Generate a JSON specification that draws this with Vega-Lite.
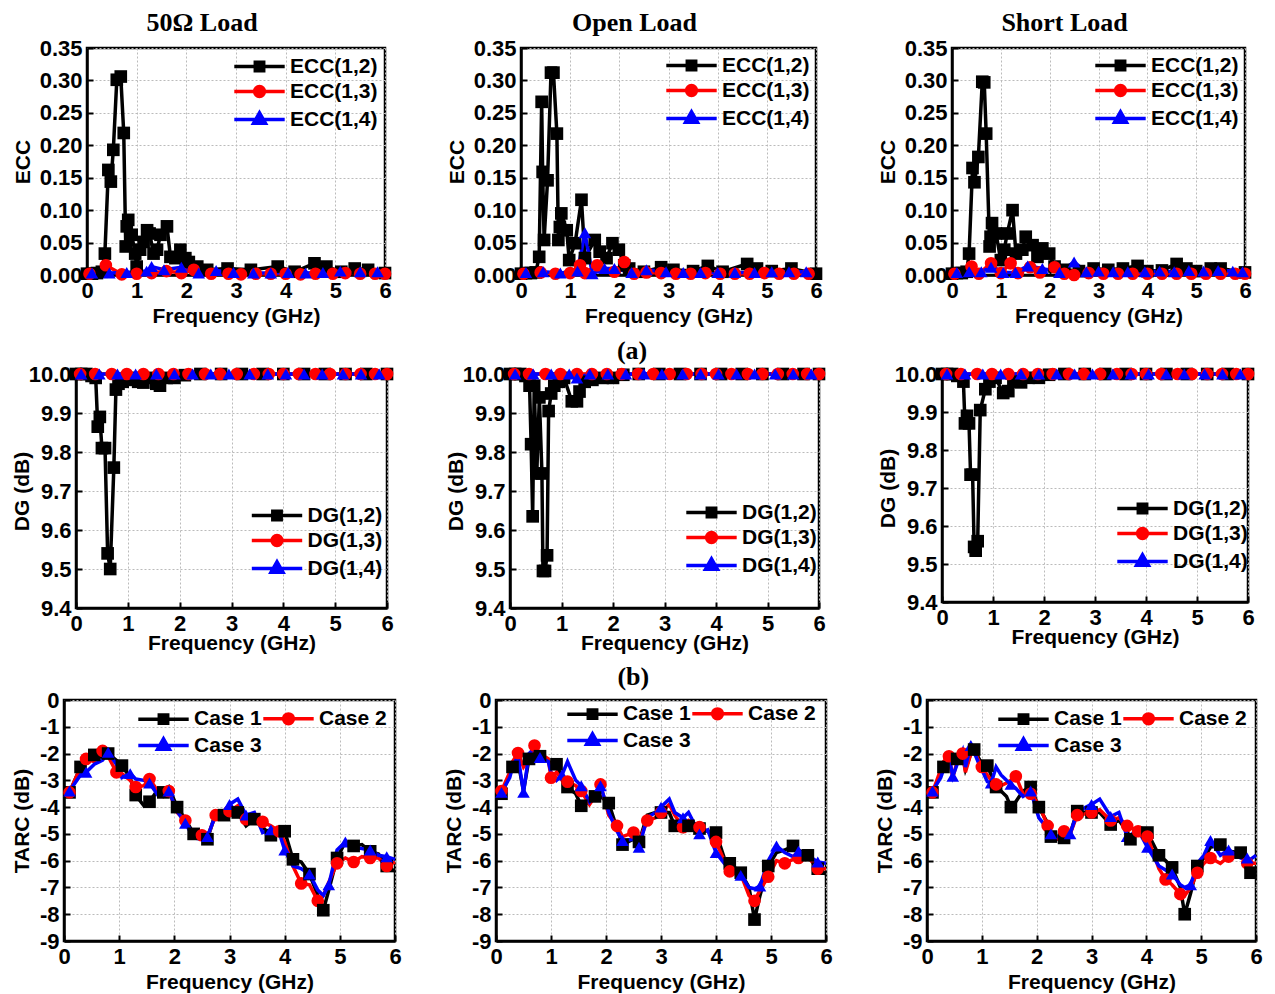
{
"$schema":"https://vega.github.io/schema/vega-lite/v6.json",
"padding":{"left":9,"right":5,"top":8,"bottom":0},
"config":{
 "font":"Liberation Sans",
 "view":{"stroke":"black","strokeWidth":2.5},
 "title":{"font":"Liberation Serif","fontSize":26,"fontWeight":"bold","color":"black","anchor":"middle","frame":"bounds","offset":1},
 "axis":{"labelFont":"Liberation Sans","labelFontSize":22,"labelFontWeight":"bold","labelColor":"black","titleFont":"Liberation Sans","titleFontSize":21,"titleFontWeight":"bold","titleColor":"black","domainColor":"black","domainWidth":2.5,"tickColor":"black","tickSize":-6,"tickWidth":2,"labelPadding":11,"titlePadding":4,"gridColor":"#bbbbbb","gridDash":[2,2],"gridWidth":1,"labelFlush":false,"labelOverlap":false,"grid":true},
 "legend":{"labelFont":"Liberation Sans","labelFontSize":21,"labelFontWeight":"bold","labelColor":"black","symbolSize":196,"symbolStrokeWidth":3.5,"labelOffset":20,"rowPadding":1,"columnPadding":-6,"padding":0}
},
"datasets":{
"e1":[
{"s":"ECC(1,2)","f":0,"v":0.002},{"s":"ECC(1,2)","f":0.1,"v":0.002},{"s":"ECC(1,2)","f":0.2,"v":0.003},{"s":"ECC(1,2)","f":0.3,"v":0.005},{"s":"ECC(1,2)","f":0.36,"v":0.033},{"s":"ECC(1,2)","f":0.43,"v":0.162},{"s":"ECC(1,2)","f":0.48,"v":0.144},{"s":"ECC(1,2)","f":0.53,"v":0.193},{"s":"ECC(1,2)","f":0.6,"v":0.301},{"s":"ECC(1,2)","f":0.68,"v":0.306},{"s":"ECC(1,2)","f":0.74,"v":0.219},{"s":"ECC(1,2)","f":0.78,"v":0.044},{"s":"ECC(1,2)","f":0.8,"v":0.075},{"s":"ECC(1,2)","f":0.83,"v":0.085},{"s":"ECC(1,2)","f":0.9,"v":0.062},{"s":"ECC(1,2)","f":0.97,"v":0.033},{"s":"ECC(1,2)","f":1.0,"v":0.013},{"s":"ECC(1,2)","f":1.07,"v":0.039},{"s":"ECC(1,2)","f":1.14,"v":0.051},{"s":"ECC(1,2)","f":1.21,"v":0.069},{"s":"ECC(1,2)","f":1.26,"v":0.064},{"s":"ECC(1,2)","f":1.34,"v":0.033},{"s":"ECC(1,2)","f":1.41,"v":0.039},{"s":"ECC(1,2)","f":1.48,"v":0.062},{"s":"ECC(1,2)","f":1.61,"v":0.075},{"s":"ECC(1,2)","f":1.68,"v":0.028},{"s":"ECC(1,2)","f":1.78,"v":0.026},{"s":"ECC(1,2)","f":1.88,"v":0.039},{"s":"ECC(1,2)","f":1.98,"v":0.026},{"s":"ECC(1,2)","f":2.05,"v":0.02},{"s":"ECC(1,2)","f":2.22,"v":0.013},{"s":"ECC(1,2)","f":2.42,"v":0.008},{"s":"ECC(1,2)","f":2.83,"v":0.01},{"s":"ECC(1,2)","f":3.3,"v":0.008},{"s":"ECC(1,2)","f":3.84,"v":0.013},{"s":"ECC(1,2)","f":4.18,"v":0.005},{"s":"ECC(1,2)","f":4.58,"v":0.018},{"s":"ECC(1,2)","f":4.82,"v":0.013},{"s":"ECC(1,2)","f":5.12,"v":0.005},{"s":"ECC(1,2)","f":5.39,"v":0.01},{"s":"ECC(1,2)","f":5.66,"v":0.008},{"s":"ECC(1,2)","f":6.0,"v":0.003},
{"s":"ECC(1,3)","f":0.05,"v":0.002},{"s":"ECC(1,3)","f":0.38,"v":0.015},{"s":"ECC(1,3)","f":0.7,"v":0.001},{"s":"ECC(1,3)","f":1.0,"v":0.002},{"s":"ECC(1,3)","f":1.3,"v":0.003},{"s":"ECC(1,3)","f":1.6,"v":0.006},{"s":"ECC(1,3)","f":1.9,"v":0.003},{"s":"ECC(1,3)","f":2.15,"v":0.008},{"s":"ECC(1,3)","f":2.5,"v":0.002},{"s":"ECC(1,3)","f":2.85,"v":0.002},{"s":"ECC(1,3)","f":3.1,"v":0.001},{"s":"ECC(1,3)","f":3.4,"v":0.002},{"s":"ECC(1,3)","f":3.7,"v":0.002},{"s":"ECC(1,3)","f":4.0,"v":0.002},{"s":"ECC(1,3)","f":4.3,"v":0.001},{"s":"ECC(1,3)","f":4.6,"v":0.002},{"s":"ECC(1,3)","f":4.95,"v":0.002},{"s":"ECC(1,3)","f":5.2,"v":0.003},{"s":"ECC(1,3)","f":5.5,"v":0.002},{"s":"ECC(1,3)","f":5.8,"v":0.002},{"s":"ECC(1,3)","f":6.0,"v":0.002},
{"s":"ECC(1,4)","f":0.1,"v":0.003},{"s":"ECC(1,4)","f":0.45,"v":0.003},{"s":"ECC(1,4)","f":0.8,"v":0.004},{"s":"ECC(1,4)","f":1.2,"v":0.006},{"s":"ECC(1,4)","f":1.3,"v":0.013},{"s":"ECC(1,4)","f":1.55,"v":0.008},{"s":"ECC(1,4)","f":1.9,"v":0.012},{"s":"ECC(1,4)","f":2.25,"v":0.003},{"s":"ECC(1,4)","f":2.6,"v":0.007},{"s":"ECC(1,4)","f":2.95,"v":0.004},{"s":"ECC(1,4)","f":3.35,"v":0.003},{"s":"ECC(1,4)","f":3.7,"v":0.003},{"s":"ECC(1,4)","f":4.05,"v":0.004},{"s":"ECC(1,4)","f":4.4,"v":0.003},{"s":"ECC(1,4)","f":4.75,"v":0.004},{"s":"ECC(1,4)","f":5.1,"v":0.006},{"s":"ECC(1,4)","f":5.5,"v":0.005},{"s":"ECC(1,4)","f":5.85,"v":0.005}
],
"e2":[
{"s":"ECC(1,2)","f":0,"v":0.002},{"s":"ECC(1,2)","f":0.1,"v":0.003},{"s":"ECC(1,2)","f":0.2,"v":0.003},{"s":"ECC(1,2)","f":0.3,"v":0.004},{"s":"ECC(1,2)","f":0.37,"v":0.028},{"s":"ECC(1,2)","f":0.42,"v":0.267},{"s":"ECC(1,2)","f":0.44,"v":0.159},{"s":"ECC(1,2)","f":0.47,"v":0.054},{"s":"ECC(1,2)","f":0.54,"v":0.146},{"s":"ECC(1,2)","f":0.61,"v":0.312},{"s":"ECC(1,2)","f":0.66,"v":0.312},{"s":"ECC(1,2)","f":0.73,"v":0.218},{"s":"ECC(1,2)","f":0.76,"v":0.054},{"s":"ECC(1,2)","f":0.79,"v":0.074},{"s":"ECC(1,2)","f":0.82,"v":0.095},{"s":"ECC(1,2)","f":0.93,"v":0.069},{"s":"ECC(1,2)","f":0.98,"v":0.023},{"s":"ECC(1,2)","f":1.1,"v":0.049},{"s":"ECC(1,2)","f":1.23,"v":0.116},{"s":"ECC(1,2)","f":1.3,"v":0.026},{"s":"ECC(1,2)","f":1.5,"v":0.054},{"s":"ECC(1,2)","f":1.6,"v":0.036},{"s":"ECC(1,2)","f":1.74,"v":0.026},{"s":"ECC(1,2)","f":1.86,"v":0.049},{"s":"ECC(1,2)","f":1.99,"v":0.039},{"s":"ECC(1,2)","f":2.1,"v":0.015},{"s":"ECC(1,2)","f":2.2,"v":0.01},{"s":"ECC(1,2)","f":2.5,"v":0.005},{"s":"ECC(1,2)","f":2.85,"v":0.012},{"s":"ECC(1,2)","f":3.1,"v":0.008},{"s":"ECC(1,2)","f":3.5,"v":0.006},{"s":"ECC(1,2)","f":3.8,"v":0.014},{"s":"ECC(1,2)","f":4.1,"v":0.005},{"s":"ECC(1,2)","f":4.6,"v":0.017},{"s":"ECC(1,2)","f":4.8,"v":0.01},{"s":"ECC(1,2)","f":5.1,"v":0.006},{"s":"ECC(1,2)","f":5.5,"v":0.01},{"s":"ECC(1,2)","f":6.0,"v":0.002},
{"s":"ECC(1,3)","f":0.05,"v":0.002},{"s":"ECC(1,3)","f":0.4,"v":0.004},{"s":"ECC(1,3)","f":0.7,"v":0.002},{"s":"ECC(1,3)","f":1.0,"v":0.003},{"s":"ECC(1,3)","f":1.2,"v":0.015},{"s":"ECC(1,3)","f":1.3,"v":0.003},{"s":"ECC(1,3)","f":1.55,"v":0.015},{"s":"ECC(1,3)","f":1.9,"v":0.005},{"s":"ECC(1,3)","f":2.1,"v":0.02},{"s":"ECC(1,3)","f":2.3,"v":0.002},{"s":"ECC(1,3)","f":2.55,"v":0.004},{"s":"ECC(1,3)","f":2.85,"v":0.003},{"s":"ECC(1,3)","f":3.15,"v":0.002},{"s":"ECC(1,3)","f":3.45,"v":0.002},{"s":"ECC(1,3)","f":3.75,"v":0.003},{"s":"ECC(1,3)","f":4.05,"v":0.002},{"s":"ECC(1,3)","f":4.35,"v":0.002},{"s":"ECC(1,3)","f":4.65,"v":0.002},{"s":"ECC(1,3)","f":4.95,"v":0.003},{"s":"ECC(1,3)","f":5.25,"v":0.002},{"s":"ECC(1,3)","f":5.55,"v":0.002},{"s":"ECC(1,3)","f":5.85,"v":0.002},
{"s":"ECC(1,4)","f":0.1,"v":0.004},{"s":"ECC(1,4)","f":0.45,"v":0.005},{"s":"ECC(1,4)","f":0.8,"v":0.003},{"s":"ECC(1,4)","f":1.15,"v":0.006},{"s":"ECC(1,4)","f":1.3,"v":0.065},{"s":"ECC(1,4)","f":1.45,"v":0.002},{"s":"ECC(1,4)","f":1.7,"v":0.01},{"s":"ECC(1,4)","f":1.9,"v":0.01},{"s":"ECC(1,4)","f":2.25,"v":0.004},{"s":"ECC(1,4)","f":2.55,"v":0.008},{"s":"ECC(1,4)","f":2.95,"v":0.005},{"s":"ECC(1,4)","f":3.3,"v":0.004},{"s":"ECC(1,4)","f":3.65,"v":0.004},{"s":"ECC(1,4)","f":4.0,"v":0.004},{"s":"ECC(1,4)","f":4.35,"v":0.004},{"s":"ECC(1,4)","f":4.75,"v":0.004},{"s":"ECC(1,4)","f":5.1,"v":0.005},{"s":"ECC(1,4)","f":5.45,"v":0.005},{"s":"ECC(1,4)","f":5.8,"v":0.005}
],
"e3":[
{"s":"ECC(1,2)","f":0,"v":0.002},{"s":"ECC(1,2)","f":0.1,"v":0.003},{"s":"ECC(1,2)","f":0.2,"v":0.003},{"s":"ECC(1,2)","f":0.3,"v":0.005},{"s":"ECC(1,2)","f":0.35,"v":0.033},{"s":"ECC(1,2)","f":0.42,"v":0.165},{"s":"ECC(1,2)","f":0.46,"v":0.143},{"s":"ECC(1,2)","f":0.54,"v":0.182},{"s":"ECC(1,2)","f":0.62,"v":0.298},{"s":"ECC(1,2)","f":0.66,"v":0.297},{"s":"ECC(1,2)","f":0.7,"v":0.218},{"s":"ECC(1,2)","f":0.77,"v":0.044},{"s":"ECC(1,2)","f":0.79,"v":0.059},{"s":"ECC(1,2)","f":0.82,"v":0.08},{"s":"ECC(1,2)","f":0.9,"v":0.064},{"s":"ECC(1,2)","f":1.0,"v":0.023},{"s":"ECC(1,2)","f":1.07,"v":0.039},{"s":"ECC(1,2)","f":1.13,"v":0.064},{"s":"ECC(1,2)","f":1.24,"v":0.1},{"s":"ECC(1,2)","f":1.31,"v":0.033},{"s":"ECC(1,2)","f":1.44,"v":0.039},{"s":"ECC(1,2)","f":1.51,"v":0.059},{"s":"ECC(1,2)","f":1.65,"v":0.046},{"s":"ECC(1,2)","f":1.75,"v":0.028},{"s":"ECC(1,2)","f":1.85,"v":0.041},{"s":"ECC(1,2)","f":1.99,"v":0.033},{"s":"ECC(1,2)","f":2.1,"v":0.013},{"s":"ECC(1,2)","f":2.3,"v":0.008},{"s":"ECC(1,2)","f":2.6,"v":0.006},{"s":"ECC(1,2)","f":2.9,"v":0.01},{"s":"ECC(1,2)","f":3.2,"v":0.008},{"s":"ECC(1,2)","f":3.5,"v":0.01},{"s":"ECC(1,2)","f":3.8,"v":0.014},{"s":"ECC(1,2)","f":4.0,"v":0.006},{"s":"ECC(1,2)","f":4.3,"v":0.007},{"s":"ECC(1,2)","f":4.6,"v":0.017},{"s":"ECC(1,2)","f":4.8,"v":0.01},{"s":"ECC(1,2)","f":5.0,"v":0.006},{"s":"ECC(1,2)","f":5.3,"v":0.01},{"s":"ECC(1,2)","f":5.5,"v":0.01},{"s":"ECC(1,2)","f":6.0,"v":0.004},
{"s":"ECC(1,3)","f":0.05,"v":0.002},{"s":"ECC(1,3)","f":0.4,"v":0.013},{"s":"ECC(1,3)","f":0.55,"v":0.002},{"s":"ECC(1,3)","f":0.8,"v":0.018},{"s":"ECC(1,3)","f":1.0,"v":0.003},{"s":"ECC(1,3)","f":1.2,"v":0.018},{"s":"ECC(1,3)","f":1.35,"v":0.003},{"s":"ECC(1,3)","f":1.6,"v":0.012},{"s":"ECC(1,3)","f":1.8,"v":0.004},{"s":"ECC(1,3)","f":2.1,"v":0.012},{"s":"ECC(1,3)","f":2.3,"v":0.002},{"s":"ECC(1,3)","f":2.5,"v":0.0},{"s":"ECC(1,3)","f":2.8,"v":0.003},{"s":"ECC(1,3)","f":3.1,"v":0.002},{"s":"ECC(1,3)","f":3.4,"v":0.002},{"s":"ECC(1,3)","f":3.7,"v":0.002},{"s":"ECC(1,3)","f":4.0,"v":0.002},{"s":"ECC(1,3)","f":4.3,"v":0.002},{"s":"ECC(1,3)","f":4.6,"v":0.002},{"s":"ECC(1,3)","f":4.9,"v":0.002},{"s":"ECC(1,3)","f":5.2,"v":0.002},{"s":"ECC(1,3)","f":5.5,"v":0.002},{"s":"ECC(1,3)","f":5.8,"v":0.002},{"s":"ECC(1,3)","f":6.0,"v":0.002},
{"s":"ECC(1,4)","f":0.1,"v":0.004},{"s":"ECC(1,4)","f":0.35,"v":0.005},{"s":"ECC(1,4)","f":0.6,"v":0.005},{"s":"ECC(1,4)","f":0.8,"v":0.012},{"s":"ECC(1,4)","f":1.05,"v":0.004},{"s":"ECC(1,4)","f":1.3,"v":0.004},{"s":"ECC(1,4)","f":1.55,"v":0.014},{"s":"ECC(1,4)","f":1.85,"v":0.01},{"s":"ECC(1,4)","f":2.2,"v":0.004},{"s":"ECC(1,4)","f":2.5,"v":0.02},{"s":"ECC(1,4)","f":2.75,"v":0.005},{"s":"ECC(1,4)","f":3.0,"v":0.006},{"s":"ECC(1,4)","f":3.3,"v":0.005},{"s":"ECC(1,4)","f":3.6,"v":0.005},{"s":"ECC(1,4)","f":3.95,"v":0.005},{"s":"ECC(1,4)","f":4.25,"v":0.006},{"s":"ECC(1,4)","f":4.55,"v":0.005},{"s":"ECC(1,4)","f":4.85,"v":0.007},{"s":"ECC(1,4)","f":5.15,"v":0.006},{"s":"ECC(1,4)","f":5.45,"v":0.007},{"s":"ECC(1,4)","f":5.75,"v":0.006},{"s":"ECC(1,4)","f":5.95,"v":0.005}
],
"d1":[
{"s":"DG(1,2)","f":0,"v":10},{"s":"DG(1,2)","f":0.1,"v":10},{"s":"DG(1,2)","f":0.2,"v":10},{"s":"DG(1,2)","f":0.3,"v":9.995},{"s":"DG(1,2)","f":0.38,"v":9.99},{"s":"DG(1,2)","f":0.42,"v":9.865},{"s":"DG(1,2)","f":0.46,"v":9.89},{"s":"DG(1,2)","f":0.5,"v":9.81},{"s":"DG(1,2)","f":0.56,"v":9.81},{"s":"DG(1,2)","f":0.61,"v":9.54},{"s":"DG(1,2)","f":0.66,"v":9.5},{"s":"DG(1,2)","f":0.73,"v":9.76},{"s":"DG(1,2)","f":0.77,"v":9.96},{"s":"DG(1,2)","f":0.82,"v":9.975},{"s":"DG(1,2)","f":0.9,"v":9.98},{"s":"DG(1,2)","f":1.0,"v":9.985},{"s":"DG(1,2)","f":1.1,"v":9.99},{"s":"DG(1,2)","f":1.2,"v":9.98},{"s":"DG(1,2)","f":1.3,"v":9.978},{"s":"DG(1,2)","f":1.45,"v":9.99},{"s":"DG(1,2)","f":1.55,"v":9.975},{"s":"DG(1,2)","f":1.62,"v":9.97},{"s":"DG(1,2)","f":1.75,"v":9.99},{"s":"DG(1,2)","f":1.9,"v":9.99},{"s":"DG(1,2)","f":2.1,"v":9.997},{"s":"DG(1,2)","f":2.4,"v":10},{"s":"DG(1,2)","f":2.8,"v":10},{"s":"DG(1,2)","f":3.2,"v":10},{"s":"DG(1,2)","f":3.6,"v":10},{"s":"DG(1,2)","f":4.0,"v":10},{"s":"DG(1,2)","f":4.4,"v":10},{"s":"DG(1,2)","f":4.8,"v":10},{"s":"DG(1,2)","f":5.2,"v":10},{"s":"DG(1,2)","f":5.6,"v":10},{"s":"DG(1,2)","f":6.0,"v":10},
{"s":"DG(1,3)","f":0.08,"v":10},{"s":"DG(1,3)","f":0.37,"v":10},{"s":"DG(1,3)","f":0.69,"v":10},{"s":"DG(1,3)","f":0.98,"v":10},{"s":"DG(1,3)","f":1.3,"v":10},{"s":"DG(1,3)","f":1.59,"v":10},{"s":"DG(1,3)","f":1.88,"v":10},{"s":"DG(1,3)","f":2.17,"v":10},{"s":"DG(1,3)","f":2.49,"v":10},{"s":"DG(1,3)","f":2.78,"v":10},{"s":"DG(1,3)","f":3.1,"v":10},{"s":"DG(1,3)","f":3.43,"v":10},{"s":"DG(1,3)","f":3.72,"v":10},{"s":"DG(1,3)","f":4.0,"v":10},{"s":"DG(1,3)","f":4.3,"v":10},{"s":"DG(1,3)","f":4.62,"v":10},{"s":"DG(1,3)","f":4.9,"v":10},{"s":"DG(1,3)","f":5.2,"v":10},{"s":"DG(1,3)","f":5.49,"v":10},{"s":"DG(1,3)","f":5.77,"v":10},{"s":"DG(1,3)","f":6.0,"v":10},
{"s":"DG(1,4)","f":0.1,"v":10},{"s":"DG(1,4)","f":0.45,"v":10},{"s":"DG(1,4)","f":0.8,"v":10},{"s":"DG(1,4)","f":1.15,"v":10},{"s":"DG(1,4)","f":1.55,"v":10},{"s":"DG(1,4)","f":1.9,"v":10},{"s":"DG(1,4)","f":2.25,"v":10},{"s":"DG(1,4)","f":2.6,"v":10},{"s":"DG(1,4)","f":2.95,"v":10},{"s":"DG(1,4)","f":3.35,"v":10},{"s":"DG(1,4)","f":3.7,"v":10},{"s":"DG(1,4)","f":4.05,"v":10},{"s":"DG(1,4)","f":4.4,"v":10},{"s":"DG(1,4)","f":4.75,"v":10},{"s":"DG(1,4)","f":5.15,"v":10},{"s":"DG(1,4)","f":5.5,"v":10},{"s":"DG(1,4)","f":5.85,"v":10}
],
"d2":[
{"s":"DG(1,2)","f":0,"v":10},{"s":"DG(1,2)","f":0.1,"v":10},{"s":"DG(1,2)","f":0.2,"v":10},{"s":"DG(1,2)","f":0.3,"v":9.995},{"s":"DG(1,2)","f":0.38,"v":9.97},{"s":"DG(1,2)","f":0.41,"v":9.82},{"s":"DG(1,2)","f":0.44,"v":9.635},{"s":"DG(1,2)","f":0.47,"v":9.97},{"s":"DG(1,2)","f":0.52,"v":9.745},{"s":"DG(1,2)","f":0.57,"v":9.94},{"s":"DG(1,2)","f":0.62,"v":9.745},{"s":"DG(1,2)","f":0.64,"v":9.495},{"s":"DG(1,2)","f":0.68,"v":9.495},{"s":"DG(1,2)","f":0.72,"v":9.535},{"s":"DG(1,2)","f":0.75,"v":9.905},{"s":"DG(1,2)","f":0.8,"v":9.95},{"s":"DG(1,2)","f":0.86,"v":9.97},{"s":"DG(1,2)","f":0.95,"v":9.98},{"s":"DG(1,2)","f":1.05,"v":9.99},{"s":"DG(1,2)","f":1.2,"v":9.93},{"s":"DG(1,2)","f":1.3,"v":9.93},{"s":"DG(1,2)","f":1.35,"v":9.955},{"s":"DG(1,2)","f":1.45,"v":9.98},{"s":"DG(1,2)","f":1.6,"v":9.985},{"s":"DG(1,2)","f":1.8,"v":9.99},{"s":"DG(1,2)","f":2.0,"v":9.99},{"s":"DG(1,2)","f":2.2,"v":9.998},{"s":"DG(1,2)","f":2.5,"v":10},{"s":"DG(1,2)","f":2.9,"v":10},{"s":"DG(1,2)","f":3.3,"v":10},{"s":"DG(1,2)","f":3.7,"v":10},{"s":"DG(1,2)","f":4.1,"v":10},{"s":"DG(1,2)","f":4.5,"v":10},{"s":"DG(1,2)","f":4.9,"v":10},{"s":"DG(1,2)","f":5.3,"v":10},{"s":"DG(1,2)","f":5.7,"v":10},{"s":"DG(1,2)","f":6.0,"v":10},
{"s":"DG(1,3)","f":0.08,"v":10},{"s":"DG(1,3)","f":0.37,"v":10},{"s":"DG(1,3)","f":0.69,"v":10},{"s":"DG(1,3)","f":0.98,"v":10},{"s":"DG(1,3)","f":1.3,"v":10},{"s":"DG(1,3)","f":1.59,"v":10},{"s":"DG(1,3)","f":1.88,"v":10},{"s":"DG(1,3)","f":2.17,"v":10},{"s":"DG(1,3)","f":2.49,"v":10},{"s":"DG(1,3)","f":2.78,"v":10},{"s":"DG(1,3)","f":3.1,"v":10},{"s":"DG(1,3)","f":3.43,"v":10},{"s":"DG(1,3)","f":3.72,"v":10},{"s":"DG(1,3)","f":4.0,"v":10},{"s":"DG(1,3)","f":4.3,"v":10},{"s":"DG(1,3)","f":4.62,"v":10},{"s":"DG(1,3)","f":4.9,"v":10},{"s":"DG(1,3)","f":5.2,"v":10},{"s":"DG(1,3)","f":5.49,"v":10},{"s":"DG(1,3)","f":5.77,"v":10},{"s":"DG(1,3)","f":6.0,"v":10},
{"s":"DG(1,4)","f":0.1,"v":10},{"s":"DG(1,4)","f":0.45,"v":10},{"s":"DG(1,4)","f":0.8,"v":10},{"s":"DG(1,4)","f":1.15,"v":10},{"s":"DG(1,4)","f":1.3,"v":9.99},{"s":"DG(1,4)","f":1.55,"v":10},{"s":"DG(1,4)","f":1.9,"v":10},{"s":"DG(1,4)","f":2.25,"v":10},{"s":"DG(1,4)","f":2.6,"v":10},{"s":"DG(1,4)","f":2.95,"v":10},{"s":"DG(1,4)","f":3.35,"v":10},{"s":"DG(1,4)","f":3.7,"v":10},{"s":"DG(1,4)","f":4.05,"v":10},{"s":"DG(1,4)","f":4.4,"v":10},{"s":"DG(1,4)","f":4.75,"v":10},{"s":"DG(1,4)","f":5.15,"v":10},{"s":"DG(1,4)","f":5.5,"v":10},{"s":"DG(1,4)","f":5.85,"v":10}
],
"d3":[
{"s":"DG(1,2)","f":0,"v":10},{"s":"DG(1,2)","f":0.1,"v":10},{"s":"DG(1,2)","f":0.2,"v":10},{"s":"DG(1,2)","f":0.3,"v":9.995},{"s":"DG(1,2)","f":0.42,"v":9.98},{"s":"DG(1,2)","f":0.45,"v":9.87},{"s":"DG(1,2)","f":0.49,"v":9.89},{"s":"DG(1,2)","f":0.53,"v":9.87},{"s":"DG(1,2)","f":0.56,"v":9.735},{"s":"DG(1,2)","f":0.6,"v":9.735},{"s":"DG(1,2)","f":0.63,"v":9.545},{"s":"DG(1,2)","f":0.66,"v":9.535},{"s":"DG(1,2)","f":0.7,"v":9.56},{"s":"DG(1,2)","f":0.75,"v":9.905},{"s":"DG(1,2)","f":0.85,"v":9.96},{"s":"DG(1,2)","f":0.93,"v":9.98},{"s":"DG(1,2)","f":1.05,"v":9.99},{"s":"DG(1,2)","f":1.2,"v":9.95},{"s":"DG(1,2)","f":1.3,"v":9.955},{"s":"DG(1,2)","f":1.4,"v":9.98},{"s":"DG(1,2)","f":1.55,"v":9.978},{"s":"DG(1,2)","f":1.7,"v":9.99},{"s":"DG(1,2)","f":1.9,"v":9.99},{"s":"DG(1,2)","f":2.1,"v":9.998},{"s":"DG(1,2)","f":2.4,"v":10},{"s":"DG(1,2)","f":2.8,"v":10},{"s":"DG(1,2)","f":3.2,"v":10},{"s":"DG(1,2)","f":3.6,"v":10},{"s":"DG(1,2)","f":4.0,"v":10},{"s":"DG(1,2)","f":4.4,"v":10},{"s":"DG(1,2)","f":4.8,"v":10},{"s":"DG(1,2)","f":5.2,"v":10},{"s":"DG(1,2)","f":5.6,"v":10},{"s":"DG(1,2)","f":6.0,"v":10},
{"s":"DG(1,3)","f":0.08,"v":10},{"s":"DG(1,3)","f":0.37,"v":10},{"s":"DG(1,3)","f":0.69,"v":10},{"s":"DG(1,3)","f":0.98,"v":10},{"s":"DG(1,3)","f":1.3,"v":10},{"s":"DG(1,3)","f":1.59,"v":10},{"s":"DG(1,3)","f":1.88,"v":10},{"s":"DG(1,3)","f":2.17,"v":10},{"s":"DG(1,3)","f":2.49,"v":10},{"s":"DG(1,3)","f":2.78,"v":10},{"s":"DG(1,3)","f":3.1,"v":10},{"s":"DG(1,3)","f":3.43,"v":10},{"s":"DG(1,3)","f":3.72,"v":10},{"s":"DG(1,3)","f":4.0,"v":10},{"s":"DG(1,3)","f":4.3,"v":10},{"s":"DG(1,3)","f":4.62,"v":10},{"s":"DG(1,3)","f":4.9,"v":10},{"s":"DG(1,3)","f":5.2,"v":10},{"s":"DG(1,3)","f":5.49,"v":10},{"s":"DG(1,3)","f":5.77,"v":10},{"s":"DG(1,3)","f":6.0,"v":10},
{"s":"DG(1,4)","f":0.1,"v":10},{"s":"DG(1,4)","f":0.45,"v":10},{"s":"DG(1,4)","f":0.8,"v":10},{"s":"DG(1,4)","f":1.15,"v":10},{"s":"DG(1,4)","f":1.55,"v":10},{"s":"DG(1,4)","f":1.9,"v":10},{"s":"DG(1,4)","f":2.25,"v":10},{"s":"DG(1,4)","f":2.6,"v":10},{"s":"DG(1,4)","f":2.95,"v":10},{"s":"DG(1,4)","f":3.35,"v":10},{"s":"DG(1,4)","f":3.7,"v":10},{"s":"DG(1,4)","f":4.05,"v":10},{"s":"DG(1,4)","f":4.4,"v":10},{"s":"DG(1,4)","f":4.75,"v":10},{"s":"DG(1,4)","f":5.15,"v":10},{"s":"DG(1,4)","f":5.5,"v":10},{"s":"DG(1,4)","f":5.85,"v":10}
],
"t1":[
{"f":0,"Case 1":-3.5,"Case 2":-3.5,"Case 3":-3.45},{"f":0.1,"Case 1":-3.45,"Case 2":-3.45,"Case 3":-3.4},{"f":0.3,"Case 1":-2.5,"Case 2":-2.5,"Case 3":-2.8},{"f":0.4,"Case 1":-2.3,"Case 2":-2.2,"Case 3":-2.7},{"f":0.55,"Case 1":-2.05,"Case 2":-2.3,"Case 3":-2.4},{"f":0.7,"Case 1":-2.15,"Case 2":-1.9,"Case 3":-2.25},{"f":0.8,"Case 1":-2.0,"Case 2":-2.1,"Case 3":-1.95},{"f":0.95,"Case 1":-2.25,"Case 2":-2.7,"Case 3":-2.4},{"f":1.05,"Case 1":-2.45,"Case 2":-2.75,"Case 3":-2.9},{"f":1.2,"Case 1":-2.9,"Case 2":-3.0,"Case 3":-2.75},{"f":1.3,"Case 1":-3.55,"Case 2":-3.25,"Case 3":-2.95},{"f":1.45,"Case 1":-3.95,"Case 2":-3.2,"Case 3":-3.0},{"f":1.55,"Case 1":-3.8,"Case 2":-2.95,"Case 3":-3.1},{"f":1.7,"Case 1":-3.35,"Case 2":-3.4,"Case 3":-3.55},{"f":1.8,"Case 1":-3.45,"Case 2":-3.6,"Case 3":-3.45},{"f":1.9,"Case 1":-3.25,"Case 2":-3.4,"Case 3":-3.4},{"f":2.05,"Case 1":-4.0,"Case 2":-4.2,"Case 3":-4.15},{"f":2.2,"Case 1":-4.45,"Case 2":-4.5,"Case 3":-4.6},{"f":2.35,"Case 1":-5.0,"Case 2":-5.15,"Case 3":-5.15},{"f":2.5,"Case 1":-5.2,"Case 2":-5.05,"Case 3":-5.2},{"f":2.6,"Case 1":-5.2,"Case 2":-5.1,"Case 3":-5.1},{"f":2.75,"Case 1":-4.2,"Case 2":-4.3,"Case 3":-4.3},{"f":2.9,"Case 1":-4.3,"Case 2":-4.35,"Case 3":-4.15},{"f":3.0,"Case 1":-4.2,"Case 2":-4.15,"Case 3":-3.9},{"f":3.15,"Case 1":-4.2,"Case 2":-3.95,"Case 3":-3.7},{"f":3.3,"Case 1":-4.7,"Case 2":-4.45,"Case 3":-4.3},{"f":3.45,"Case 1":-4.45,"Case 2":-4.45,"Case 3":-4.2},{"f":3.6,"Case 1":-4.75,"Case 2":-4.55,"Case 3":-4.95},{"f":3.75,"Case 1":-5.05,"Case 2":-4.7,"Case 3":-4.85},{"f":3.9,"Case 1":-4.95,"Case 2":-4.9,"Case 3":-4.95},{"f":4.0,"Case 1":-4.9,"Case 2":-5.3,"Case 3":-5.6},{"f":4.15,"Case 1":-5.95,"Case 2":-6.2,"Case 3":-6.2},{"f":4.3,"Case 1":-6.05,"Case 2":-6.85,"Case 3":-6.3},{"f":4.45,"Case 1":-6.5,"Case 2":-6.9,"Case 3":-6.5},{"f":4.6,"Case 1":-7.3,"Case 2":-7.5,"Case 3":-7.1},{"f":4.7,"Case 1":-7.85,"Case 2":-7.3,"Case 3":-7.3},{"f":4.8,"Case 1":-7.1,"Case 2":-6.8,"Case 3":-6.9},{"f":4.95,"Case 1":-5.9,"Case 2":-6.1,"Case 3":-5.6},{"f":5.1,"Case 1":-5.3,"Case 2":-5.9,"Case 3":-5.3},{"f":5.25,"Case 1":-5.45,"Case 2":-6.05,"Case 3":-5.5},{"f":5.4,"Case 1":-5.4,"Case 2":-5.85,"Case 3":-5.55},{"f":5.55,"Case 1":-5.65,"Case 2":-5.9,"Case 3":-5.6},{"f":5.7,"Case 1":-5.75,"Case 2":-5.9,"Case 3":-5.8},{"f":5.85,"Case 1":-6.2,"Case 2":-6.2,"Case 3":-5.85},{"f":6.0,"Case 1":-6.4,"Case 2":-6.05,"Case 3":-5.95}
],
"m1":[
{"f":0.1,"Case 1":-3.45,"Case 2":-3.45,"Case 3":-3.4},{"f":0.3,"Case 1":-2.5},{"f":0.4,"Case 2":-2.2,"Case 3":-2.7},{"f":0.55,"Case 1":-2.05},{"f":0.7,"Case 2":-1.9},{"f":0.8,"Case 1":-2.0,"Case 3":-1.95},{"f":0.95,"Case 2":-2.7},{"f":1.05,"Case 1":-2.45},{"f":1.2,"Case 3":-2.75},{"f":1.3,"Case 1":-3.55,"Case 2":-3.25},{"f":1.55,"Case 1":-3.8,"Case 2":-2.95,"Case 3":-3.1},{"f":1.8,"Case 1":-3.45},{"f":1.9,"Case 2":-3.4,"Case 3":-3.4},{"f":2.05,"Case 1":-4.0},{"f":2.2,"Case 2":-4.5,"Case 3":-4.6},{"f":2.35,"Case 1":-5.0},{"f":2.5,"Case 2":-5.05},{"f":2.6,"Case 1":-5.2,"Case 3":-5.1},{"f":2.75,"Case 2":-4.3},{"f":2.9,"Case 1":-4.3},{"f":3.0,"Case 2":-4.15,"Case 3":-3.9},{"f":3.15,"Case 1":-4.2},{"f":3.3,"Case 2":-4.45,"Case 3":-4.3},{"f":3.45,"Case 1":-4.45},{"f":3.6,"Case 2":-4.55},{"f":3.75,"Case 1":-5.05,"Case 3":-4.85},{"f":3.9,"Case 2":-4.9},{"f":4.0,"Case 1":-4.9,"Case 3":-5.6},{"f":4.15,"Case 1":-5.95},{"f":4.3,"Case 2":-6.85},{"f":4.45,"Case 1":-6.5,"Case 3":-6.5},{"f":4.6,"Case 2":-7.5},{"f":4.7,"Case 1":-7.85},{"f":4.8,"Case 3":-6.9},{"f":4.95,"Case 1":-5.9,"Case 2":-6.1},{"f":5.1,"Case 3":-5.3},{"f":5.25,"Case 1":-5.45,"Case 2":-6.05},{"f":5.55,"Case 1":-5.65,"Case 2":-5.9,"Case 3":-5.6},{"f":5.85,"Case 1":-6.2,"Case 2":-6.2,"Case 3":-5.85}
],
"t2":[
{"f":0,"Case 1":-3.5,"Case 2":-3.45,"Case 3":-3.5},{"f":0.1,"Case 1":-3.5,"Case 2":-3.4,"Case 3":-3.45},{"f":0.25,"Case 1":-2.8,"Case 2":-2.7,"Case 3":-2.9},{"f":0.3,"Case 1":-2.5,"Case 2":-2.3,"Case 3":-2.5},{"f":0.4,"Case 1":-2.3,"Case 2":-1.98,"Case 3":-2.1},{"f":0.5,"Case 1":-3.4,"Case 2":-2.5,"Case 3":-3.45},{"f":0.6,"Case 1":-2.2,"Case 2":-2.2,"Case 3":-2.0},{"f":0.7,"Case 1":-1.95,"Case 2":-1.7,"Case 3":-1.8},{"f":0.8,"Case 1":-2.1,"Case 2":-2.0,"Case 3":-2.15},{"f":0.95,"Case 1":-2.3,"Case 2":-2.2,"Case 3":-2.3},{"f":1.0,"Case 1":-2.35,"Case 2":-2.9,"Case 3":-2.7},{"f":1.1,"Case 1":-2.4,"Case 2":-2.7,"Case 3":-3.0},{"f":1.2,"Case 1":-2.9,"Case 2":-3.0,"Case 3":-2.8},{"f":1.3,"Case 1":-3.25,"Case 2":-3.05,"Case 3":-2.3},{"f":1.45,"Case 1":-3.5,"Case 2":-3.2,"Case 3":-3.0},{"f":1.55,"Case 1":-3.95,"Case 2":-3.4,"Case 3":-3.2},{"f":1.7,"Case 1":-3.8,"Case 2":-3.9,"Case 3":-3.8},{"f":1.8,"Case 1":-3.6,"Case 2":-3.6,"Case 3":-3.5},{"f":1.9,"Case 1":-3.6,"Case 2":-3.15,"Case 3":-3.2},{"f":2.05,"Case 1":-3.85,"Case 2":-4.3,"Case 3":-4.2},{"f":2.2,"Case 1":-4.8,"Case 2":-4.7,"Case 3":-4.9},{"f":2.3,"Case 1":-5.4,"Case 2":-5.1,"Case 3":-5.25},{"f":2.5,"Case 1":-5.2,"Case 2":-4.95,"Case 3":-5.2},{"f":2.6,"Case 1":-5.3,"Case 2":-5.3,"Case 3":-5.5},{"f":2.75,"Case 1":-4.3,"Case 2":-4.5,"Case 3":-4.4},{"f":2.9,"Case 1":-4.2,"Case 2":-4.4,"Case 3":-4.2},{"f":3.0,"Case 1":-4.2,"Case 2":-4.2,"Case 3":-4.0},{"f":3.15,"Case 1":-4.2,"Case 2":-3.9,"Case 3":-3.7},{"f":3.25,"Case 1":-4.7,"Case 2":-4.3,"Case 3":-4.2},{"f":3.4,"Case 1":-4.9,"Case 2":-4.75,"Case 3":-4.4},{"f":3.5,"Case 1":-4.7,"Case 2":-4.5,"Case 3":-4.2},{"f":3.7,"Case 1":-4.8,"Case 2":-4.75,"Case 3":-5.0},{"f":3.85,"Case 1":-4.9,"Case 2":-4.9,"Case 3":-4.85},{"f":4.0,"Case 1":-4.95,"Case 2":-5.3,"Case 3":-5.7},{"f":4.15,"Case 1":-5.9,"Case 2":-6.0,"Case 3":-6.1},{"f":4.25,"Case 1":-6.1,"Case 2":-6.4,"Case 3":-6.3},{"f":4.45,"Case 1":-6.45,"Case 2":-6.5,"Case 3":-6.55},{"f":4.6,"Case 1":-7.0,"Case 2":-7.3,"Case 3":-7.0},{"f":4.7,"Case 1":-8.2,"Case 2":-7.5,"Case 3":-7.05},{"f":4.8,"Case 1":-7.3,"Case 2":-7.1,"Case 3":-6.95},{"f":4.95,"Case 1":-6.2,"Case 2":-6.6,"Case 3":-6.0},{"f":5.1,"Case 1":-5.7,"Case 2":-6.0,"Case 3":-5.45},{"f":5.25,"Case 1":-5.6,"Case 2":-6.1,"Case 3":-5.7},{"f":5.4,"Case 1":-5.45,"Case 2":-5.95,"Case 3":-5.85},{"f":5.5,"Case 1":-5.6,"Case 2":-5.9,"Case 3":-5.65},{"f":5.67,"Case 1":-5.8,"Case 2":-5.85,"Case 3":-5.8},{"f":5.85,"Case 1":-6.3,"Case 2":-6.3,"Case 3":-6.05},{"f":6.0,"Case 1":-6.5,"Case 2":-6.3,"Case 3":-6.1}
],
"m2":[
{"f":0.1,"Case 1":-3.5,"Case 2":-3.4,"Case 3":-3.45},{"f":0.3,"Case 1":-2.5},{"f":0.4,"Case 2":-1.98},{"f":0.5,"Case 3":-3.45},{"f":0.6,"Case 1":-2.2},{"f":0.7,"Case 2":-1.7},{"f":0.8,"Case 1":-2.1,"Case 3":-2.15},{"f":1.0,"Case 2":-2.9},{"f":1.1,"Case 1":-2.4},{"f":1.2,"Case 3":-2.8},{"f":1.3,"Case 1":-3.25,"Case 2":-3.05},{"f":1.55,"Case 1":-3.95,"Case 2":-3.4,"Case 3":-3.2},{"f":1.8,"Case 1":-3.6},{"f":1.9,"Case 2":-3.15,"Case 3":-3.2},{"f":2.05,"Case 1":-3.85},{"f":2.2,"Case 2":-4.7},{"f":2.3,"Case 1":-5.4,"Case 3":-5.25},{"f":2.5,"Case 2":-4.95},{"f":2.6,"Case 1":-5.3,"Case 3":-5.5},{"f":2.75,"Case 2":-4.5},{"f":3.0,"Case 1":-4.2,"Case 2":-4.2,"Case 3":-4.0},{"f":3.25,"Case 1":-4.7},{"f":3.4,"Case 2":-4.75,"Case 3":-4.4},{"f":3.5,"Case 1":-4.7},{"f":3.7,"Case 1":-4.8,"Case 2":-4.75,"Case 3":-5.0},{"f":4.0,"Case 1":-4.95,"Case 2":-5.3,"Case 3":-5.7},{"f":4.25,"Case 1":-6.1,"Case 2":-6.4},{"f":4.45,"Case 1":-6.45,"Case 3":-6.55},{"f":4.7,"Case 1":-8.2,"Case 2":-7.5},{"f":4.8,"Case 3":-6.95},{"f":4.95,"Case 1":-6.2,"Case 2":-6.6},{"f":5.1,"Case 3":-5.45},{"f":5.25,"Case 2":-6.1},{"f":5.4,"Case 1":-5.45},{"f":5.5,"Case 2":-5.9,"Case 3":-5.65},{"f":5.67,"Case 1":-5.8},{"f":5.85,"Case 1":-6.3,"Case 2":-6.3,"Case 3":-6.05}
],
"t3":[
{"f":0,"Case 1":-3.5,"Case 2":-3.5,"Case 3":-3.45},{"f":0.1,"Case 1":-3.45,"Case 2":-3.45,"Case 3":-3.4},{"f":0.25,"Case 1":-2.8,"Case 2":-2.6,"Case 3":-2.9},{"f":0.3,"Case 1":-2.5,"Case 2":-2.3,"Case 3":-2.6},{"f":0.4,"Case 1":-2.4,"Case 2":-2.1,"Case 3":-2.1},{"f":0.47,"Case 1":-2.35,"Case 2":-2.9,"Case 3":-2.85},{"f":0.55,"Case 1":-2.2,"Case 2":-2.3,"Case 3":-2.4},{"f":0.65,"Case 1":-2.1,"Case 2":-2.0,"Case 3":-1.9},{"f":0.7,"Case 1":-2.6,"Case 2":-2.7,"Case 3":-2.5},{"f":0.8,"Case 1":-2.0,"Case 2":-2.0,"Case 3":-1.7},{"f":0.86,"Case 1":-1.85,"Case 2":-1.9,"Case 3":-1.95},{"f":0.95,"Case 1":-2.2,"Case 2":-2.3,"Case 3":-2.4},{"f":1.0,"Case 1":-2.4,"Case 2":-2.5,"Case 3":-2.6},{"f":1.1,"Case 1":-2.45,"Case 2":-2.8,"Case 3":-3.05},{"f":1.17,"Case 1":-2.8,"Case 2":-3.0,"Case 3":-3.1},{"f":1.26,"Case 1":-3.25,"Case 2":-3.15,"Case 3":-2.5},{"f":1.35,"Case 1":-3.4,"Case 2":-3.2,"Case 3":-2.8},{"f":1.45,"Case 1":-3.6,"Case 2":-3.1,"Case 3":-3.0},{"f":1.53,"Case 1":-4.0,"Case 2":-3.0,"Case 3":-3.15},{"f":1.62,"Case 1":-3.8,"Case 2":-2.85,"Case 3":-3.3},{"f":1.75,"Case 1":-3.4,"Case 2":-3.5,"Case 3":-3.6},{"f":1.89,"Case 1":-3.25,"Case 2":-3.5,"Case 3":-3.4},{"f":2.04,"Case 1":-4.0,"Case 2":-3.9,"Case 3":-4.4},{"f":2.2,"Case 1":-4.6,"Case 2":-4.7,"Case 3":-4.8},{"f":2.26,"Case 1":-5.1,"Case 2":-5.1,"Case 3":-5.0},{"f":2.4,"Case 1":-5.2,"Case 2":-5.2,"Case 3":-5.1},{"f":2.5,"Case 1":-5.15,"Case 2":-4.9,"Case 3":-5.15},{"f":2.61,"Case 1":-5.0,"Case 2":-5.0,"Case 3":-5.0},{"f":2.74,"Case 1":-4.15,"Case 2":-4.3,"Case 3":-4.2},{"f":2.9,"Case 1":-4.2,"Case 2":-4.25,"Case 3":-4.0},{"f":3.0,"Case 1":-4.2,"Case 2":-4.2,"Case 3":-3.9},{"f":3.15,"Case 1":-4.2,"Case 2":-4.1,"Case 3":-3.7},{"f":3.35,"Case 1":-4.65,"Case 2":-4.5,"Case 3":-4.35},{"f":3.5,"Case 1":-4.5,"Case 2":-4.4,"Case 3":-4.2},{"f":3.65,"Case 1":-4.9,"Case 2":-4.7,"Case 3":-5.1},{"f":3.71,"Case 1":-5.2,"Case 2":-4.75,"Case 3":-5.05},{"f":3.85,"Case 1":-4.95,"Case 2":-4.9,"Case 3":-4.85},{"f":4.02,"Case 1":-4.95,"Case 2":-5.1,"Case 3":-5.5},{"f":4.23,"Case 1":-5.8,"Case 2":-6.3,"Case 3":-6.2},{"f":4.35,"Case 1":-6.0,"Case 2":-6.7,"Case 3":-6.35},{"f":4.47,"Case 1":-6.25,"Case 2":-6.9,"Case 3":-6.5},{"f":4.62,"Case 1":-7.0,"Case 2":-7.25,"Case 3":-6.9},{"f":4.7,"Case 1":-8.0,"Case 2":-7.3,"Case 3":-7.0},{"f":4.81,"Case 1":-7.2,"Case 2":-7.0,"Case 3":-6.9},{"f":4.93,"Case 1":-6.2,"Case 2":-6.45,"Case 3":-6.1},{"f":5.05,"Case 1":-5.9,"Case 2":-6.1,"Case 3":-5.8},{"f":5.17,"Case 1":-5.5,"Case 2":-5.9,"Case 3":-5.25},{"f":5.35,"Case 1":-5.4,"Case 2":-6.1,"Case 3":-5.8},{"f":5.5,"Case 1":-5.65,"Case 2":-5.85,"Case 3":-5.6},{"f":5.72,"Case 1":-5.7,"Case 2":-5.85,"Case 3":-5.9},{"f":5.84,"Case 1":-6.1,"Case 2":-6.1,"Case 3":-5.9},{"f":5.9,"Case 1":-6.45,"Case 2":-6.1,"Case 3":-5.95},{"f":6.0,"Case 1":-6.4,"Case 2":-6.1,"Case 3":-5.8}
],
"m3":[
{"f":0.1,"Case 1":-3.45,"Case 2":-3.45,"Case 3":-3.4},{"f":0.3,"Case 1":-2.5},{"f":0.4,"Case 2":-2.1},{"f":0.47,"Case 3":-2.85},{"f":0.55,"Case 1":-2.2},{"f":0.65,"Case 2":-2.0},{"f":0.8,"Case 3":-1.7},{"f":0.86,"Case 1":-1.85},{"f":1.0,"Case 2":-2.5},{"f":1.1,"Case 1":-2.45},{"f":1.17,"Case 3":-3.1},{"f":1.26,"Case 1":-3.25,"Case 2":-3.15},{"f":1.53,"Case 1":-4.0,"Case 3":-3.15},{"f":1.62,"Case 2":-2.85},{"f":1.89,"Case 1":-3.25,"Case 2":-3.5,"Case 3":-3.4},{"f":2.04,"Case 1":-4.0},{"f":2.2,"Case 2":-4.7},{"f":2.26,"Case 1":-5.1,"Case 3":-5.0},{"f":2.5,"Case 1":-5.15,"Case 2":-4.9},{"f":2.61,"Case 3":-5.0},{"f":2.74,"Case 1":-4.15,"Case 2":-4.3},{"f":3.0,"Case 1":-4.2,"Case 2":-4.2,"Case 3":-3.9},{"f":3.35,"Case 1":-4.65,"Case 2":-4.5,"Case 3":-4.35},{"f":3.65,"Case 2":-4.7,"Case 3":-5.1},{"f":3.71,"Case 1":-5.2},{"f":3.85,"Case 2":-4.9},{"f":4.02,"Case 1":-4.95,"Case 2":-5.1,"Case 3":-5.5},{"f":4.23,"Case 1":-5.8},{"f":4.35,"Case 2":-6.7},{"f":4.47,"Case 1":-6.25,"Case 3":-6.5},{"f":4.62,"Case 2":-7.25},{"f":4.7,"Case 1":-8.0},{"f":4.81,"Case 3":-6.9},{"f":4.93,"Case 1":-6.2,"Case 2":-6.45},{"f":5.17,"Case 2":-5.9,"Case 3":-5.25},{"f":5.35,"Case 1":-5.4},{"f":5.5,"Case 2":-5.85,"Case 3":-5.6},{"f":5.72,"Case 1":-5.7},{"f":5.84,"Case 2":-6.1,"Case 3":-5.9},{"f":5.9,"Case 1":-6.45}
]
},
"columns":1,
"align":"none",
"spacing":-4,
"resolve":{"scale":{"color":"independent","shape":"independent"}},
"concat":[
{"hconcat":[
 {"width":1,"height":1,"view":{"stroke":null},"data":{"values":[]},"mark":"point"},
 {"hconcat":[
 {"width":298,"height":227,"title":{"text":"50Ω Load"},"data":{"name":"e1"},
  "encoding":{
   "x":{"field":"f","type":"quantitative","scale":{"domain":[0,6],"nice":false},"axis":{"title":"Frequency (GHz)","values":[0,1,2,3,4,5,6],"format":"d"}},
   "y":{"field":"v","type":"quantitative","scale":{"domain":[0,0.35],"nice":false},"axis":{"title":"ECC","values":[0,0.05,0.1,0.15,0.2,0.25,0.3,0.35],"format":".2f","titlePadding":6}},
   "color":{"field":"s","type":"nominal","scale":{"domain":["ECC(1,2)","ECC(1,3)","ECC(1,4)"],"range":["#000000","#ff0000","#0000ff"]},
    "legend":{"title":null,"orient":"none","legendX":162,"legendY":8,"encode":{"symbols":{"update":{"shape":{"signal":"['M-3.6,0H3.6M-0.6,-0.6H0.6V0.6H-0.6Z','M-3.6,0H3.6M-0.7,0A0.7,0.7,0,1,0,0.7,0A0.7,0.7,0,1,0,-0.7,0Z','M-3.6,0H3.6M0,-0.95L0.85,0.55H-0.85Z'][datum.index]"},"fill":{"signal":"['#000000','#ff0000','#0000ff'][datum.index]"},"stroke":{"signal":"['#000000','#ff0000','#0000ff'][datum.index]"},"strokeWidth":{"value":3.5},"opacity":{"value":1}}}}}}
  },
  "layer":[
   {"mark":{"type":"line","strokeWidth":3.5}},
   {"mark":{"type":"point","filled":true,"size":160,"opacity":1},"encoding":{"shape":{"field":"s","type":"nominal","scale":{"domain":["ECC(1,4)","ECC(1,3)","ECC(1,2)"],"range":["triangle-up","circle","square"]},"legend":null}}}
  ]},
 {"width":295,"height":227,"title":{"text":"Open Load"},"data":{"name":"e2"},
  "encoding":{
   "x":{"field":"f","type":"quantitative","scale":{"domain":[0,6],"nice":false},"axis":{"title":"Frequency (GHz)","values":[0,1,2,3,4,5,6],"format":"d"}},
   "y":{"field":"v","type":"quantitative","scale":{"domain":[0,0.35],"nice":false},"axis":{"title":"ECC","values":[0,0.05,0.1,0.15,0.2,0.25,0.3,0.35],"format":".2f","titlePadding":6}},
   "color":{"field":"s","type":"nominal","scale":{"domain":["ECC(1,2)","ECC(1,3)","ECC(1,4)"],"range":["#000000","#ff0000","#0000ff"]},
    "legend":{"title":null,"orient":"none","legendX":160,"legendY":7,"encode":{"symbols":{"update":{"shape":{"signal":"['M-3.6,0H3.6M-0.6,-0.6H0.6V0.6H-0.6Z','M-3.6,0H3.6M-0.7,0A0.7,0.7,0,1,0,0.7,0A0.7,0.7,0,1,0,-0.7,0Z','M-3.6,0H3.6M0,-0.95L0.85,0.55H-0.85Z'][datum.index]"},"fill":{"signal":"['#000000','#ff0000','#0000ff'][datum.index]"},"stroke":{"signal":"['#000000','#ff0000','#0000ff'][datum.index]"},"strokeWidth":{"value":3.5},"opacity":{"value":1}}}}}}
  },
  "layer":[
   {"mark":{"type":"line","strokeWidth":3.5}},
   {"mark":{"type":"point","filled":true,"size":160,"opacity":1},"encoding":{"shape":{"field":"s","type":"nominal","scale":{"domain":["ECC(1,4)","ECC(1,3)","ECC(1,2)"],"range":["triangle-up","circle","square"]},"legend":null}}}
  ]},
 {"width":293,"height":227,"title":{"text":"Short Load"},"data":{"name":"e3"},
  "encoding":{
   "x":{"field":"f","type":"quantitative","scale":{"domain":[0,6],"nice":false},"axis":{"title":"Frequency (GHz)","values":[0,1,2,3,4,5,6],"format":"d"}},
   "y":{"field":"v","type":"quantitative","scale":{"domain":[0,0.35],"nice":false},"axis":{"title":"ECC","values":[0,0.05,0.1,0.15,0.2,0.25,0.3,0.35],"format":".2f","titlePadding":6}},
   "color":{"field":"s","type":"nominal","scale":{"domain":["ECC(1,2)","ECC(1,3)","ECC(1,4)"],"range":["#000000","#ff0000","#0000ff"]},
    "legend":{"title":null,"orient":"none","legendX":158,"legendY":7,"encode":{"symbols":{"update":{"shape":{"signal":"['M-3.6,0H3.6M-0.6,-0.6H0.6V0.6H-0.6Z','M-3.6,0H3.6M-0.7,0A0.7,0.7,0,1,0,0.7,0A0.7,0.7,0,1,0,-0.7,0Z','M-3.6,0H3.6M0,-0.95L0.85,0.55H-0.85Z'][datum.index]"},"fill":{"signal":"['#000000','#ff0000','#0000ff'][datum.index]"},"stroke":{"signal":"['#000000','#ff0000','#0000ff'][datum.index]"},"strokeWidth":{"value":3.5},"opacity":{"value":1}}}}}}
  },
  "layer":[
   {"mark":{"type":"line","strokeWidth":3.5}},
   {"mark":{"type":"point","filled":true,"size":160,"opacity":1},"encoding":{"shape":{"field":"s","type":"nominal","scale":{"domain":["ECC(1,4)","ECC(1,3)","ECC(1,2)"],"range":["triangle-up","circle","square"]},"legend":null}}}
  ]}
 ],"spacing":50,"resolve":{"scale":{"color":"independent","shape":"independent"}},"title":{"text":"(a)","orient":"bottom","offset":11}}
],"spacing":0,"resolve":{"scale":{"color":"independent","shape":"independent"}}},
{"hconcat":[
 {"width":1,"height":1,"view":{"stroke":null},"data":{"values":[]},"mark":"point"},
 {"hconcat":[
 {"width":311,"height":234,"data":{"name":"d1"},
  "encoding":{
   "x":{"field":"f","type":"quantitative","scale":{"domain":[0,6],"nice":false},"axis":{"title":"Frequency (GHz)","values":[0,1,2,3,4,5,6],"format":"d","titlePadding":-2}},
   "y":{"field":"v","type":"quantitative","scale":{"domain":[9.4,10],"nice":false},"axis":{"title":"DG (dB)","values":[9.4,9.5,9.6,9.7,9.8,9.9,10],"format":".1f","titlePadding":-4.5}},
   "color":{"field":"s","type":"nominal","scale":{"domain":["DG(1,2)","DG(1,3)","DG(1,4)"],"range":["#000000","#ff0000","#0000ff"]},
    "legend":{"title":null,"orient":"none","legendX":190.5,"legendY":131,"encode":{"symbols":{"update":{"shape":{"signal":"['M-3.6,0H3.6M-0.6,-0.6H0.6V0.6H-0.6Z','M-3.6,0H3.6M-0.7,0A0.7,0.7,0,1,0,0.7,0A0.7,0.7,0,1,0,-0.7,0Z','M-3.6,0H3.6M0,-0.95L0.85,0.55H-0.85Z'][datum.index]"},"fill":{"signal":"['#000000','#ff0000','#0000ff'][datum.index]"},"stroke":{"signal":"['#000000','#ff0000','#0000ff'][datum.index]"},"strokeWidth":{"value":3.5},"opacity":{"value":1}}}}}}
  },
  "layer":[
   {"mark":{"type":"line","strokeWidth":3.5}},
   {"mark":{"type":"point","filled":true,"size":160,"opacity":1},"encoding":{"shape":{"field":"s","type":"nominal","scale":{"domain":["DG(1,4)","DG(1,3)","DG(1,2)"],"range":["triangle-up","circle","square"]},"legend":null}}}
  ]},
 {"width":309,"height":234,"data":{"name":"d2"},
  "encoding":{
   "x":{"field":"f","type":"quantitative","scale":{"domain":[0,6],"nice":false},"axis":{"title":"Frequency (GHz)","values":[0,1,2,3,4,5,6],"format":"d","titlePadding":-2}},
   "y":{"field":"v","type":"quantitative","scale":{"domain":[9.4,10],"nice":false},"axis":{"title":"DG (dB)","values":[9.4,9.5,9.6,9.7,9.8,9.9,10],"format":".1f","titlePadding":-4.5}},
   "color":{"field":"s","type":"nominal","scale":{"domain":["DG(1,2)","DG(1,3)","DG(1,4)"],"range":["#000000","#ff0000","#0000ff"]},
    "legend":{"title":null,"orient":"none","legendX":191,"legendY":128,"encode":{"symbols":{"update":{"shape":{"signal":"['M-3.6,0H3.6M-0.6,-0.6H0.6V0.6H-0.6Z','M-3.6,0H3.6M-0.7,0A0.7,0.7,0,1,0,0.7,0A0.7,0.7,0,1,0,-0.7,0Z','M-3.6,0H3.6M0,-0.95L0.85,0.55H-0.85Z'][datum.index]"},"fill":{"signal":"['#000000','#ff0000','#0000ff'][datum.index]"},"stroke":{"signal":"['#000000','#ff0000','#0000ff'][datum.index]"},"strokeWidth":{"value":3.5},"opacity":{"value":1}}}}}}
  },
  "layer":[
   {"mark":{"type":"line","strokeWidth":3.5}},
   {"mark":{"type":"point","filled":true,"size":160,"opacity":1},"encoding":{"shape":{"field":"s","type":"nominal","scale":{"domain":["DG(1,4)","DG(1,3)","DG(1,2)"],"range":["triangle-up","circle","square"]},"legend":null}}}
  ]},
 {"width":306,"height":228,"data":{"name":"d3"},
  "encoding":{
   "x":{"field":"f","type":"quantitative","scale":{"domain":[0,6],"nice":false},"axis":{"title":"Frequency (GHz)","values":[0,1,2,3,4,5,6],"format":"d","titlePadding":-2}},
   "y":{"field":"v","type":"quantitative","scale":{"domain":[9.4,10],"nice":false},"axis":{"title":"DG (dB)","values":[9.4,9.5,9.6,9.7,9.8,9.9,10],"format":".1f","titlePadding":-4.5}},
   "color":{"field":"s","type":"nominal","scale":{"domain":["DG(1,2)","DG(1,3)","DG(1,4)"],"range":["#000000","#ff0000","#0000ff"]},
    "legend":{"title":null,"orient":"none","legendX":190,"legendY":124,"encode":{"symbols":{"update":{"shape":{"signal":"['M-3.6,0H3.6M-0.6,-0.6H0.6V0.6H-0.6Z','M-3.6,0H3.6M-0.7,0A0.7,0.7,0,1,0,0.7,0A0.7,0.7,0,1,0,-0.7,0Z','M-3.6,0H3.6M0,-0.95L0.85,0.55H-0.85Z'][datum.index]"},"fill":{"signal":"['#000000','#ff0000','#0000ff'][datum.index]"},"stroke":{"signal":"['#000000','#ff0000','#0000ff'][datum.index]"},"strokeWidth":{"value":3.5},"opacity":{"value":1}}}}}}
  },
  "layer":[
   {"mark":{"type":"line","strokeWidth":3.5}},
   {"mark":{"type":"point","filled":true,"size":160,"opacity":1},"encoding":{"shape":{"field":"s","type":"nominal","scale":{"domain":["DG(1,4)","DG(1,3)","DG(1,2)"],"range":["triangle-up","circle","square"]},"legend":null}}}
  ]}
 ],"spacing":48,"resolve":{"scale":{"color":"independent","shape":"independent"}},"title":{"text":"(b)","orient":"bottom","offset":10}}
],"spacing":0,"resolve":{"scale":{"color":"independent","shape":"independent"}}},
{"hconcat":[
 {"width":1,"height":1,"view":{"stroke":null},"data":{"values":[]},"mark":"point"},
 {"hconcat":[
 {"width":331,"height":241,
  "encoding":{
   "x":{"field":"f","type":"quantitative","scale":{"domain":[0,6],"nice":false},"axis":{"title":"Frequency (GHz)","values":[0,1,2,3,4,5,6],"format":"d"}},
   "y":{"field":"v","type":"quantitative","scale":{"domain":[-9,0],"nice":false},"axis":{"title":"TARC (dB)","values":[0,-1,-2,-3,-4,-5,-6,-7,-8,-9],"labelExpr":"'' + datum.value","titlePadding":7}},
   "color":{"field":"s","type":"nominal","scale":{"domain":["Case 1","Case 2","Case 3"],"range":["#000000","#ff0000","#0000ff"]},
    "legend":{"title":null,"orient":"none","legendX":89,"legendY":8,"columns":2,"direction":"horizontal","rowPadding":0,"encode":{"symbols":{"update":{"shape":{"signal":"['M-3.6,0H3.6M-0.6,-0.6H0.6V0.6H-0.6Z','M-3.6,0H3.6M-0.7,0A0.7,0.7,0,1,0,0.7,0A0.7,0.7,0,1,0,-0.7,0Z','M-3.6,0H3.6M0,-0.95L0.85,0.55H-0.85Z'][datum.index]"},"fill":{"signal":"['#000000','#ff0000','#0000ff'][datum.index]"},"stroke":{"signal":"['#000000','#ff0000','#0000ff'][datum.index]"},"strokeWidth":{"value":3.5},"opacity":{"value":1}}}}}}
  },
  "layer":[
   {"data":{"name":"t1"},"transform":[{"fold":["Case 1","Case 2","Case 3"],"as":["s","v"]}],"mark":{"type":"line","strokeWidth":3.5}},
   {"data":{"name":"m1"},"transform":[{"fold":["Case 1","Case 2","Case 3"],"as":["s","v"]},{"filter":{"field":"v","valid":true}}],"mark":{"type":"point","filled":true,"size":160,"opacity":1},"encoding":{"shape":{"field":"s","type":"nominal","scale":{"domain":["Case 3","Case 2","Case 1"],"range":["triangle-up","circle","square"]},"legend":null}}}
  ]},
 {"width":330,"height":241,
  "encoding":{
   "x":{"field":"f","type":"quantitative","scale":{"domain":[0,6],"nice":false},"axis":{"title":"Frequency (GHz)","values":[0,1,2,3,4,5,6],"format":"d"}},
   "y":{"field":"v","type":"quantitative","scale":{"domain":[-9,0],"nice":false},"axis":{"title":"TARC (dB)","values":[0,-1,-2,-3,-4,-5,-6,-7,-8,-9],"labelExpr":"'' + datum.value","titlePadding":7}},
   "color":{"field":"s","type":"nominal","scale":{"domain":["Case 1","Case 2","Case 3"],"range":["#000000","#ff0000","#0000ff"]},
    "legend":{"title":null,"orient":"none","legendX":86,"legendY":3,"columns":2,"direction":"horizontal","rowPadding":0,"encode":{"symbols":{"update":{"shape":{"signal":"['M-3.6,0H3.6M-0.6,-0.6H0.6V0.6H-0.6Z','M-3.6,0H3.6M-0.7,0A0.7,0.7,0,1,0,0.7,0A0.7,0.7,0,1,0,-0.7,0Z','M-3.6,0H3.6M0,-0.95L0.85,0.55H-0.85Z'][datum.index]"},"fill":{"signal":"['#000000','#ff0000','#0000ff'][datum.index]"},"stroke":{"signal":"['#000000','#ff0000','#0000ff'][datum.index]"},"strokeWidth":{"value":3.5},"opacity":{"value":1}}}}}}
  },
  "layer":[
   {"data":{"name":"t2"},"transform":[{"fold":["Case 1","Case 2","Case 3"],"as":["s","v"]}],"mark":{"type":"line","strokeWidth":3.5}},
   {"data":{"name":"m2"},"transform":[{"fold":["Case 1","Case 2","Case 3"],"as":["s","v"]},{"filter":{"field":"v","valid":true}}],"mark":{"type":"point","filled":true,"size":160,"opacity":1},"encoding":{"shape":{"field":"s","type":"nominal","scale":{"domain":["Case 3","Case 2","Case 1"],"range":["triangle-up","circle","square"]},"legend":null}}}
  ]},
 {"width":329,"height":241,
  "encoding":{
   "x":{"field":"f","type":"quantitative","scale":{"domain":[0,6],"nice":false},"axis":{"title":"Frequency (GHz)","values":[0,1,2,3,4,5,6],"format":"d"}},
   "y":{"field":"v","type":"quantitative","scale":{"domain":[-9,0],"nice":false},"axis":{"title":"TARC (dB)","values":[0,-1,-2,-3,-4,-5,-6,-7,-8,-9],"labelExpr":"'' + datum.value","titlePadding":7}},
   "color":{"field":"s","type":"nominal","scale":{"domain":["Case 1","Case 2","Case 3"],"range":["#000000","#ff0000","#0000ff"]},
    "legend":{"title":null,"orient":"none","legendX":86,"legendY":8,"columns":2,"direction":"horizontal","rowPadding":0,"encode":{"symbols":{"update":{"shape":{"signal":"['M-3.6,0H3.6M-0.6,-0.6H0.6V0.6H-0.6Z','M-3.6,0H3.6M-0.7,0A0.7,0.7,0,1,0,0.7,0A0.7,0.7,0,1,0,-0.7,0Z','M-3.6,0H3.6M0,-0.95L0.85,0.55H-0.85Z'][datum.index]"},"fill":{"signal":"['#000000','#ff0000','#0000ff'][datum.index]"},"stroke":{"signal":"['#000000','#ff0000','#0000ff'][datum.index]"},"strokeWidth":{"value":3.5},"opacity":{"value":1}}}}}}
  },
  "layer":[
   {"data":{"name":"t3"},"transform":[{"fold":["Case 1","Case 2","Case 3"],"as":["s","v"]}],"mark":{"type":"line","strokeWidth":3.5}},
   {"data":{"name":"m3"},"transform":[{"fold":["Case 1","Case 2","Case 3"],"as":["s","v"]},{"filter":{"field":"v","valid":true}}],"mark":{"type":"point","filled":true,"size":160,"opacity":1},"encoding":{"shape":{"field":"s","type":"nominal","scale":{"domain":["Case 3","Case 2","Case 1"],"range":["triangle-up","circle","square"]},"legend":null}}}
  ]}
 ],"spacing":38,"resolve":{"scale":{"color":"independent","shape":"independent"}}}
],"spacing":0,"resolve":{"scale":{"color":"independent","shape":"independent"}}}
]
}
